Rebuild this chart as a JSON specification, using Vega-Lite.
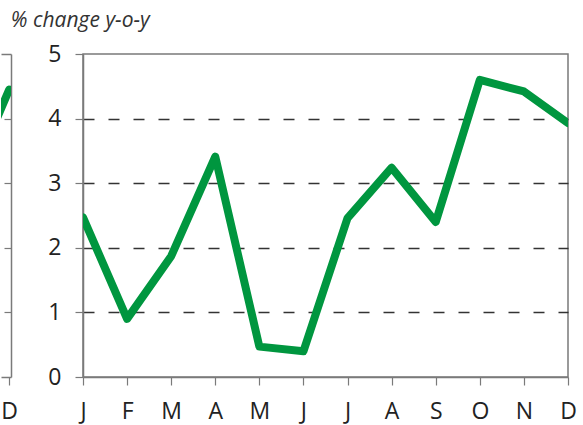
{
  "$schema": "https://vega.github.io/schema/vega-lite/v6.json",
  "padding": {"left": 0, "top": 10, "right": 0, "bottom": 0},
  "autosize": {"type": "pad"},
  "title": {"text": "% change y-o-y", "anchor": "start", "frame": "bounds", "dx": 10, "offset": 11, "font": "Open Sans", "fontSize": 21, "fontStyle": "italic", "fontWeight": "normal", "color": "#333333"},
  "spacing": 72,
  "bounds": "flush",
  "config": {
    "font": "Open Sans",
    "axis": {"domainColor": "#7a7a7a", "domainWidth": 1.5, "tickColor": "#7a7a7a", "tickWidth": 1.2, "labelFont": "Open Sans", "labelFontSize": 23, "labelColor": "#222222", "title": null, "labelFlush": false, "labelOverlap": false, "labelBound": false}
  },
  "hconcat": [
    {
      "width": 10,
      "height": 323,
      "data": {"values": [{"month": 11, "value": 3.14}, {"month": 12, "value": 4.45}]},
      "view": {"stroke": null},
      "layer": [
        {
          "mark": {"type": "line", "clip": true, "color": "#00963f", "strokeWidth": 8, "strokeCap": "round"},
          "encoding": {
            "x": {"field": "month", "type": "quantitative", "scale": {"domain": [11.773, 12.05], "nice": false, "zero": false}, "axis": {"orient": "bottom", "values": [12], "labelExpr": "'D'", "tickSize": 8, "labelPadding": 15, "grid": false}},
            "y": {"field": "value", "type": "quantitative", "scale": {"domain": [0, 5], "nice": false}, "axis": {"orient": "right", "values": [1, 2, 3, 4], "tickSize": -7, "labels": false, "grid": false}}
          }
        },
        {
          "mark": {"type": "line", "clip": true, "opacity": 0},
          "encoding": {
            "x": {"field": "month", "type": "quantitative", "axis": {"orient": "top", "ticks": false, "labels": false, "grid": false}},
            "y": {"field": "value", "type": "quantitative"}
          }
        }
      ],
      "resolve": {"axis": {"x": "independent"}}
    },
    {
      "width": 485,
      "height": 323,
      "data": {"values": [
        {"month": 1, "value": 2.47},
        {"month": 2, "value": 0.9},
        {"month": 3, "value": 1.87},
        {"month": 4, "value": 3.41},
        {"month": 5, "value": 0.47},
        {"month": 6, "value": 0.4},
        {"month": 7, "value": 2.46},
        {"month": 8, "value": 3.24},
        {"month": 9, "value": 2.4},
        {"month": 10, "value": 4.6},
        {"month": 11, "value": 4.42},
        {"month": 12, "value": 3.93}
      ]},
      "view": {"stroke": "#7a7a7a", "strokeWidth": 1.5},
      "mark": {"type": "line", "clip": true, "color": "#00963f", "strokeWidth": 8, "strokeCap": "round", "strokeJoin": "round"},
      "encoding": {
        "x": {"field": "month", "type": "quantitative", "scale": {"domain": [1, 12], "nice": false, "zero": false}, "axis": {"values": [1, 2, 3, 4, 5, 6, 7, 8, 9, 10, 11, 12], "labelExpr": "['J','F','M','A','M','J','J','A','S','O','N','D'][datum.value - 1]", "tickSize": 8, "labelPadding": 15, "grid": false}},
        "y": {"field": "value", "type": "quantitative", "scale": {"domain": [0, 5], "nice": false}, "axis": {"values": [0, 1, 2, 3, 4, 5], "tickSize": 8, "labelPadding": 14, "grid": true, "gridColor": "#333333", "gridDash": [11, 14], "gridWidth": 1.3, "gridOpacity": {"condition": {"test": "datum.value == 0 || datum.value == 5", "value": 0}, "value": 1}}}
      }
    }
  ]
}
